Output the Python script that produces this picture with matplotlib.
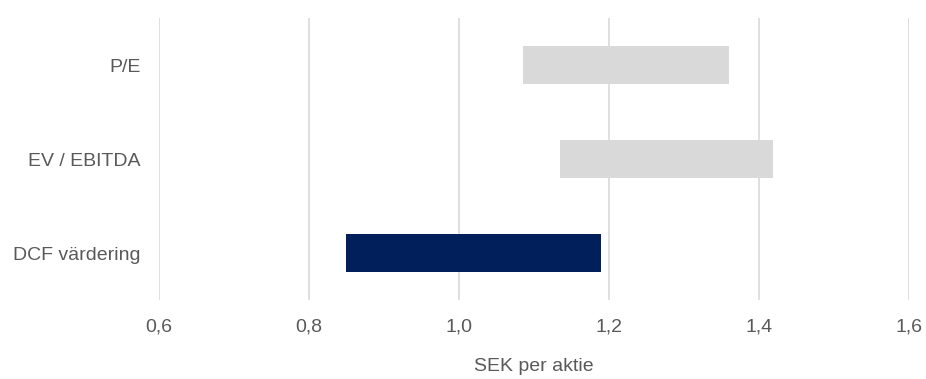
import matplotlib
matplotlib.use("Agg")
import matplotlib.pyplot as plt

categories = ["DCF värdering", "EV / EBITDA", "P/E"]
low_values = [0.85, 1.135, 1.086]
high_values = [1.19, 1.419, 1.360]
bar_colors = ["#001f5b", "#d9d9d9", "#d9d9d9"]
tick_values = [0.6, 0.8, 1.0, 1.2, 1.4, 1.6]
tick_labels = ["0,6", "0,8", "1,0", "1,2", "1,4", "1,6"]
x_label = "SEK per aktie"

plt.rcParams['font.family'] = ['Liberation Sans', 'DejaVu Sans']
text_color = "#595959"

fig = plt.figure(figsize=(9.26, 3.79), dpi=100)
ax = fig.add_axes([0.1714, 0.2085, 0.81, 0.7435])

widths = [h - l for l, h in zip(low_values, high_values)]
ax.barh(range(len(categories)), widths, left=low_values, height=0.41,
        color=bar_colors, zorder=3)

ax.set_xlim(0.6, 1.6)
ax.set_ylim(-0.5, len(categories) - 0.5)
ax.set_xticks(tick_values)
ax.set_xticklabels(tick_labels)
ax.set_yticks(range(len(categories)))
ax.set_yticklabels(categories)
ax.grid(axis='x', color="#d9d9d9", linewidth=1.2, zorder=0)
ax.grid(axis='y', visible=False)
for s in ax.spines.values():
    s.set_visible(False)
ax.tick_params(axis='both', length=0, colors=text_color, labelsize=14)
ax.tick_params(axis='x', pad=13.5)
ax.tick_params(axis='y', pad=13)
ax.set_xlabel(x_label, color=text_color, fontsize=14, labelpad=16)

fig.savefig("out.png", dpi=100)
